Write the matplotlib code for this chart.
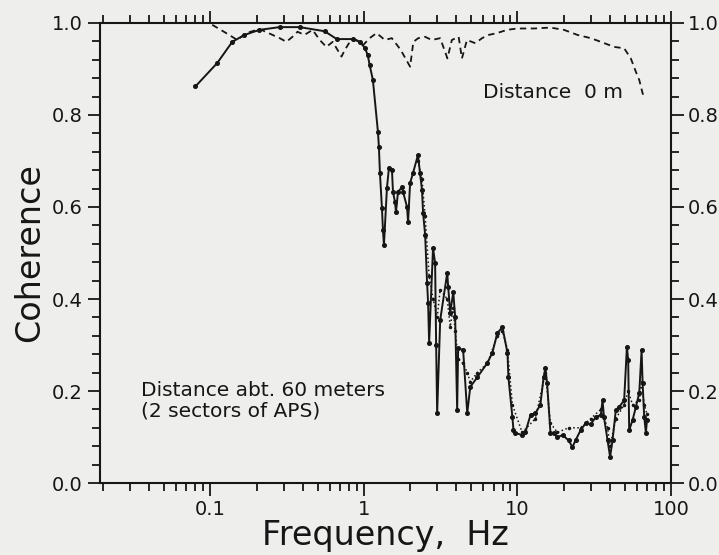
import matplotlib
matplotlib.use('Agg')
import matplotlib.pyplot as plt
from matplotlib.ticker import FixedLocator, LogLocator, AutoMinorLocator, NullFormatter, FormatStrFormatter

# distance about 60 m, sector 1 (solid with dots)
f_60 = [0.080, 0.111, 0.139, 0.167, 0.209, 0.283, 0.382, 0.556, 0.666, 0.848,
        0.941, 1.015, 1.06, 1.09, 1.145, 1.235, 1.253, 1.272, 1.311, 1.331,
        1.351, 1.413, 1.456, 1.524, 1.547, 1.594, 1.619, 1.668, 1.771, 1.799,
        1.910, 1.94, 2.0, 2.09, 2.25, 2.32, 2.39, 2.43, 2.505, 2.58,
        2.62, 2.66, 2.82, 2.91, 2.955, 3.0, 3.14, 3.49, 3.54, 3.65,
        3.82, 3.93, 4.05, 4.11, 4.43, 4.71, 4.93, 5.48, 6.37, 6.86,
        7.40, 7.98, 8.61, 8.73, 9.27, 9.42, 9.70, 10.73, 11.28, 12.16,
        13.1, 14.1, 14.8, 15.2, 15.6, 16.4, 17.2, 18.2, 19.7, 21.5,
        22.8, 23.9, 25.8, 27.8, 30.0, 32.3, 34.9, 35.8, 36.6, 38.6,
        40.1, 41.6, 43.7, 45.9, 49.5, 51.6, 52.6, 53.4, 56.2, 59.0,
        62.1, 64.3, 65.3, 66.9, 68.6, 69.7]
coh_60 = [0.862, 0.913, 0.959, 0.974, 0.985, 0.991, 0.991, 0.982, 0.965, 0.965,
          0.959, 0.946, 0.930, 0.909, 0.876, 0.763, 0.730, 0.674, 0.598, 0.550,
          0.517, 0.641, 0.685, 0.680, 0.633, 0.611, 0.589, 0.633, 0.643, 0.633,
          0.600, 0.567, 0.652, 0.674, 0.713, 0.674, 0.637, 0.587, 0.540, 0.435,
          0.391, 0.304, 0.511, 0.478, 0.300, 0.152, 0.354, 0.457, 0.426, 0.370,
          0.415, 0.361, 0.159, 0.293, 0.289, 0.152, 0.209, 0.230, 0.261, 0.283,
          0.326, 0.339, 0.283, 0.230, 0.143, 0.115, 0.109, 0.104, 0.111, 0.148,
          0.152, 0.170, 0.230, 0.250, 0.217, 0.109, 0.109, 0.100, 0.104, 0.093,
          0.078, 0.093, 0.115, 0.130, 0.128, 0.143, 0.148, 0.180, 0.143, 0.093,
          0.057, 0.093, 0.159, 0.165, 0.180, 0.296, 0.267, 0.115, 0.137, 0.165,
          0.196, 0.289, 0.217, 0.143, 0.109, 0.137]

# distance about 60 m, sector 2 (dotted)
f_60b = [2.25, 2.39, 2.505, 2.66, 2.82, 3.0, 3.14, 3.49, 3.65, 3.82,
         3.93, 4.11, 4.43, 4.71, 4.93, 5.48, 6.37, 7.40, 7.98, 8.61,
         9.27, 10.73, 13.1, 15.2, 16.4, 18.2, 21.5, 25.8, 30.0, 34.9,
         38.6, 40.1, 43.7, 49.5, 52.6, 56.2, 62.1, 64.3, 66.9, 69.7]
coh_60b = [0.70, 0.66, 0.58, 0.45, 0.40, 0.36, 0.42, 0.40, 0.34, 0.38,
           0.33, 0.27, 0.26, 0.24, 0.22, 0.24, 0.26, 0.32, 0.33, 0.29,
           0.17, 0.11, 0.14, 0.24, 0.13, 0.11, 0.12, 0.12, 0.14, 0.16,
           0.12, 0.08, 0.14, 0.17, 0.20, 0.17, 0.18, 0.22, 0.17, 0.15]

# distance 0 m (dashed)
f_0 = [0.103, 0.124, 0.150, 0.172, 0.209, 0.283, 0.313, 0.343, 0.37, 0.41,
       0.464, 0.516, 0.57, 0.627, 0.715, 0.751, 0.81, 0.896, 0.99, 1.09,
       1.21, 1.37, 1.52, 1.68, 1.76, 2.0, 2.1, 2.26, 2.5, 2.77,
       3.14, 3.5, 3.74, 4.14, 4.35, 4.69, 5.32, 5.88, 6.49, 7.36,
       8.55, 9.95, 12.8, 16.4, 20.1, 24.6, 30.0, 34.9, 42.6, 49.5,
       54.7, 59.0, 62.1, 65.3, 66.9]
coh_0 = [0.996, 0.980, 0.963, 0.978, 0.987, 0.967, 0.959, 0.970, 0.981, 0.974,
         0.985, 0.963, 0.948, 0.959, 0.927, 0.941, 0.959, 0.963, 0.952, 0.967,
         0.978, 0.963, 0.967, 0.948, 0.938, 0.905, 0.959, 0.967, 0.970, 0.963,
         0.967, 0.923, 0.963, 0.970, 0.923, 0.963, 0.956, 0.967, 0.974, 0.978,
         0.985, 0.988, 0.988, 0.990, 0.985, 0.974, 0.967, 0.959, 0.948, 0.945,
         0.923, 0.894, 0.876, 0.847, 0.840]

y_ticks = [0.0, 0.2, 0.4, 0.6, 0.8, 1.0]
x_ticks = [0.1, 1, 10, 100]
x_tick_labels = ['0.1', '1', '10', '100']

ink = '#161616'
paper = '#eeeeec'

fig = plt.figure(figsize=(7.19, 5.55), dpi=100, facecolor=paper)
ax = fig.add_axes([0.1384, 0.1297, 0.7949, 0.8289])
ax.set_facecolor(paper)

ax.plot(f_60b, coh_60b, linestyle=':', color=ink, lw=1.1, marker='.', ms=3)
ax.plot(f_60, coh_60, '-', color=ink, lw=1.4, marker='o', ms=2.6)
ax.plot(f_0, coh_0, linestyle=(0, (3.5, 2.5)), color=ink, lw=1.3)

ax.set_xscale('log')
ax.set_xlim(0.019, 100)
ax.set_ylim(0, 1.0)

ax.xaxis.set_major_locator(FixedLocator(x_ticks))
ax.set_xticklabels(x_tick_labels)
ax.xaxis.set_minor_locator(LogLocator(base=10, subs=range(2, 10)))
ax.xaxis.set_minor_formatter(NullFormatter())
ax.set_yticks(y_ticks)
ax.yaxis.set_major_formatter(FormatStrFormatter('%.1f'))
ax.yaxis.set_minor_locator(AutoMinorLocator(5))

ax.tick_params(which='both', direction='out', top=True, right=True,
               labelright=True, color=ink, labelcolor=ink, width=1.3)
ax.tick_params(which='major', length=9, labelsize=14, pad=3)
ax.tick_params(which='minor', length=6)
for s in ax.spines.values():
    s.set_linewidth(1.5)
    s.set_color(ink)

ax.set_xlabel('Frequency,  Hz', fontsize=24, color=ink, labelpad=0)
ax.set_ylabel('Coherence', fontsize=24, color=ink, labelpad=4)

ax.text(6.0, 0.837, 'Distance  0 m', fontsize=14.5, color=ink, va='baseline')
ax.text(0.0352, 0.178, 'Distance abt. 60 meters\n(2 sectors of APS)',
        fontsize=14.5, color=ink, va='center', linespacing=1.1)

fig.savefig('out.png', dpi=100, facecolor=paper)
